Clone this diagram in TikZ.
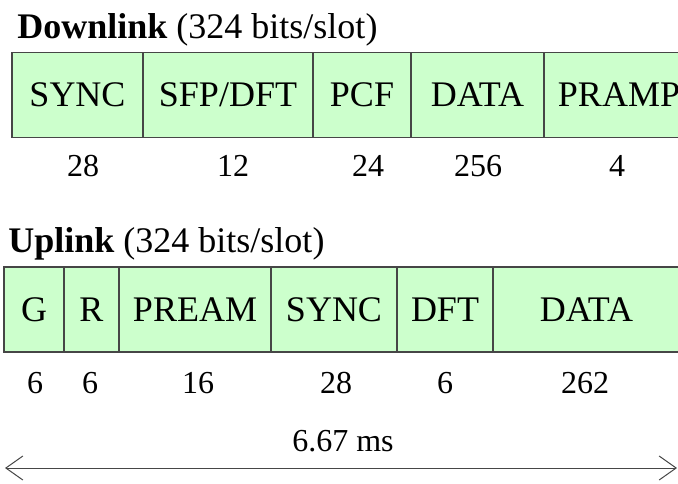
\documentclass[tikz,border=0pt]{standalone}
\usepackage{fontspec}
\setmainfont{Liberation Serif}
\usepackage{xcolor}
\usetikzlibrary{arrows.meta}
\definecolor{fgrn} {RGB}{204,255,204}
\definecolor{lgry} {RGB}{ 70, 70, 70}
\tikzset{
  % Green field box, width in pixels
  FB/.style={rectangle,draw=lgry,fill=fgrn,minimum width=#1*0.5pt,
             minimum height=42.5pt,inner sep=0pt,outer sep=0pt,
             font=\fontsize{18}{21}\selectfont,line width=0.6pt},
  FB/.default=100,
  % Bit count under a field
  NL/.style={anchor=base,font=\fontsize{16}{19}\selectfont,inner sep=0pt},
  % Frame title
  TL/.style={anchor=base west,font=\fontsize{18}{21}\selectfont,inner sep=0pt},
  % Duration arrow
  Arr/.style={{Straight Barb[length=8.5pt,width=12pt]}-{Straight Barb[length=8.5pt,width=12pt]},
              line width=0.5pt,color=lgry},
}
\begin{document}
\begin{tikzpicture}[x=0.5pt,y=-0.5pt]
      \useasboundingbox (0,0) rectangle (678,483);
      % Downlink frame
      \node[TL] at (17,38) (dtitle) {\textbf{Downlink} (324 bits/slot)};
      \node[FB=131] at (77.5,95) (dsync)  {SYNC};
      \node[FB=170] at (228,95)  (dsfp)   {SFP/DFT};
      \node[FB=98]  at (362,95)  (dpcf)   {PCF};
      \node[FB=133] at (477.5,95) (ddata) {DATA};
      \node[FB=150] at (619,95)  (dpramp) {PRAMP};
      \node[NL] at (83,176)  (nsync)  {28};
      \node[NL] at (233,176) (nsfp)   {12};
      \node[NL] at (368,176) (npcf)   {24};
      \node[NL] at (478,176) (ndata)  {256};
      \node[NL] at (617,176) (npramp) {4};
      % Uplink frame
      \node[TL] at (8,252) (utitle) {\textbf{Uplink} (324 bits/slot)};
      \node[FB=60]  at (34,309.5)    (ug)     {G};
      \node[FB=55]  at (91.5,309.5)  (ur)     {R};
      \node[FB=152] at (195,309.5)   (upream) {PREAM};
      \node[FB=126] at (334,309.5)   (usync)  {SYNC};
      \node[FB=96]  at (445,309.5)   (udft)   {DFT};
      \node[FB=187] at (586.5,309.5) (udata)  {DATA};
      \node[NL] at (35,393)  (mg)     {6};
      \node[NL] at (90,393)  (mr)     {6};
      \node[NL] at (198,393) (mpream) {16};
      \node[NL] at (336,393) (msync)  {28};
      \node[NL] at (445,393) (mdft)   {6};
      \node[NL] at (585,393) (mdata)  {262};
      % Slot duration
      \node[NL] at (343,451) (dur) {6.67 ms};
      \coordinate (al) at (5,468);
      \coordinate (ar) at (677,468);
      \draw[Arr] (al)--(ar);
    \end{tikzpicture}
\end{document}
